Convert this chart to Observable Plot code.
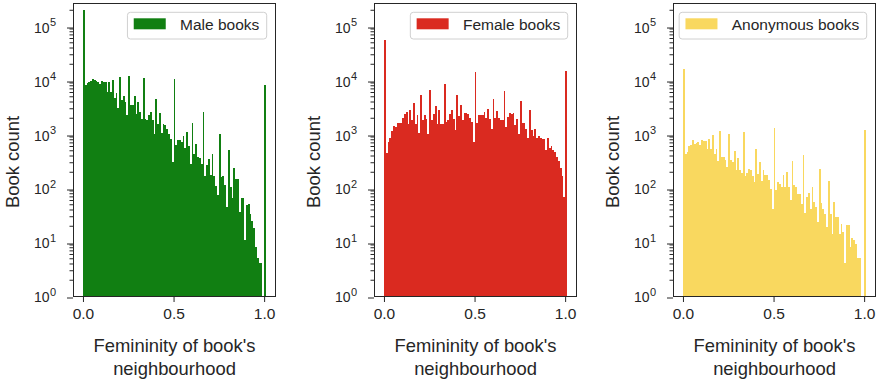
<!DOCTYPE html>
<html><head><meta charset="utf-8">
<script src="https://cdn.jsdelivr.net/npm/d3@7"></script>
<script src="https://cdn.jsdelivr.net/npm/@observablehq/plot@0.6"></script>
<style>
body{margin:0;background:#fff;}
#chart{position:relative;width:877px;height:382px;}
.panel{position:absolute;top:0;}
</style></head><body><div id="chart"></div>
<script>
// Histogram bins: bin i covers [i*binWidth, (i+1)*binWidth), i = 0..100
const binWidth = 0.01;
const maleCounts = [200000, 8000, 8800, 9200, 9600, 10300, 9900, 9600, 9200, 8300,
  9600, 9300, 9300, 6000, 9200, 6000, 10200, 4700, 5750, 3030,
  11400, 4340, 4990, 3920, 2220, 11700, 3400, 3500, 4990, 2380,
  3920, 2560, 1930, 11100, 1930, 1850, 2220, 2560, 1850, 1020,
  4520, 1560, 2450, 1045, 1560, 1450, 1260, 990, 800, 303,
  10600, 618, 766, 787, 713, 908, 560, 1090, 592, 282,
  1600, 434, 646, 376, 366, 282, 2560, 165, 263, 350,
  172, 421, 165, 108, 73, 1020, 160, 165, 112, 45,
  514, 105, 64, 235, 149, 149, 36, 66, 66, 11,
  48, 50, 33, 25, 18, 8, 5, 4, 4, 0,
  8000];
const femaleCounts = [56000, 446, 713, 858, 1122, 1429, 1350, 1600, 1600, 1600,
  2010, 2317, 2560, 1515, 2826, 1795, 3758, 1515, 2222, 1045,
  5200, 1846, 2222, 1926, 1022, 6640, 1846, 2317, 3260, 1556,
  2826, 1556, 1515, 8570, 1670, 1846, 2317, 2750, 1926, 1205,
  5200, 2128, 3400, 1795, 2487, 2400, 2317, 2010, 1670, 713,
  14000, 1600, 2222, 2222, 2222, 2560, 2010, 2950, 1926, 1260,
  4520, 2010, 2670, 2010, 1846, 1795, 6270, 1350, 2060, 2400,
  2317, 2400, 1470, 1926, 1000, 4100, 1600, 1600, 1260, 858,
  2750, 1180, 908, 1260, 858, 908, 858, 820, 820, 500,
  858, 560, 590, 514, 460, 376, 317, 238, 165, 68,
  15000];
const anonCounts = [15700, 421, 465, 592, 618, 766, 664, 683, 713, 618,
  787, 733, 733, 536, 820, 536, 946, 421, 536, 317,
  1122, 376, 376, 326, 245, 988, 335, 303, 486, 219,
  366, 213, 190, 1090, 165, 190, 228, 213, 165, 129,
  536, 185, 303, 135, 219, 172, 172, 139, 97, 41,
  1295, 91, 129, 120, 105, 172, 105, 198, 105, 59,
  313, 112, 105, 79, 79, 51, 415, 34, 68, 81,
  41, 105, 55, 45, 23, 222, 53, 40, 33, 19,
  135, 33, 14, 55, 29, 29, 14, 22, 15, 4,
  21, 21, 8, 12, 11, 9, 5, 5, 0, 0,
  1210];
const seriesNames = ["Male books", "Female books", "Anonymous books"];
const seriesColors = ["#117f12", "#da2a20", "#f9d85f"];
const xTicks = [0, 0.5, 1.0];
const yMajorTicks = [1, 10, 100, 1000, 10000, 100000];
const yMinorMultipliers = [2, 3, 4, 5, 6, 7, 8, 9];
const xLabelLines = ["Femininity of book's", "neighbourhood"];
const yLabel = "Book count";

const yMax = 2.67e5;
const yMinorTicks = [];
for (const t of yMajorTicks) for (const m of yMinorMultipliers) if (t * m < yMax) yMinorTicks.push(t * m);

const W = 277, H = 382, ML = 73, MR = 2, MT = 3, MB = 86;
const FONT = "'Liberation Sans', Arial, sans-serif";
const INK = "#262626";
const offsets = [0, 301, 600];
const allCounts = [maleCounts, femaleCounts, anonCounts];

const chart = document.getElementById("chart");
allCounts.forEach((counts, p) => {
  const data = counts.map((c, i) => ({x1: i * binWidth, x2: (i + 1) * binWidth, count: c})).filter(d => d.count > 0);
  const svg = Plot.plot({
    width: W, height: H,
    marginLeft: ML, marginRight: MR, marginTop: MT, marginBottom: MB,
    style: {fontFamily: FONT, color: INK, background: "transparent", overflow: "visible"},
    x: {domain: [-0.055, 1.06]},
    y: {type: "log", domain: [1, yMax]},
    marks: [
      Plot.rectY(data, {x1: "x1", x2: "x2", y1: 1, y2: "count", fill: seriesColors[p],
        inset: 0, shapeRendering: "crispEdges"}),
      Plot.frame({stroke: INK, strokeWidth: 1}),
      Plot.axisX(xTicks, {tickSize: 6, tickPadding: 5.5, tickFormat: d3.format(".1f"), fontSize: 15.5, label: null}),
      Plot.axisY(yMinorTicks, {tickSize: 3.5, tickFormat: () => "", label: null}),
      Plot.axisY(yMajorTicks, {tickSize: 6, tickPadding: 18, tickFormat: () => "10", fontSize: 14, dy: 1.5, label: null}),
      Plot.axisY(yMajorTicks, {tickSize: 0, tickPadding: 23.5, textAnchor: "start", tickFormat: d => String(Math.round(Math.log10(d))), fontSize: 11, dy: -4, label: null}),
      Plot.text([xLabelLines[0]], {text: d => d, frameAnchor: "bottom", lineAnchor: "top", dy: 42, fontSize: 18.4, fill: INK}),
      Plot.text([xLabelLines[1]], {text: d => d, frameAnchor: "bottom", lineAnchor: "top", dy: 65, fontSize: 18.4, fill: INK}),
      Plot.text([yLabel], {text: d => d, frameAnchor: "left", textAnchor: "middle", rotate: -90, dx: -60.5, dy: 12, fontSize: 18.4, fill: INK})
    ]
  });
  const wrap = document.createElement("div");
  wrap.className = "panel";
  wrap.style.left = offsets[p] + "px";
  wrap.appendChild(svg);
  chart.appendChild(wrap);

  // legend (upper right, inside frame)
  const g = d3.select(svg).append("g").attr("text-anchor", "start");
  const box = g.append("rect");
  const patch = g.append("rect");
  const label = g.append("text").text(seriesNames[p])
    .attr("text-anchor", "start")
    .attr("font-family", FONT).attr("font-size", 15.5).attr("fill", INK);
  const tw = label.node().getComputedTextLength();
  const right = W - MR - 8.3;
  const bw = 6.3 + 32 + 14.3 + tw + 7.4;
  const left = right - bw;
  box.attr("x", left).attr("y", 12.3).attr("width", bw).attr("height", 26.7)
    .attr("rx", 3).attr("fill", "white").attr("fill-opacity", 0.8).attr("stroke", "#d0d0d0").attr("stroke-width", 1);
  patch.attr("x", left + 6.3).attr("y", 18.3).attr("width", 32).attr("height", 11).attr("fill", seriesColors[p]);
  label.attr("x", left + 6.3 + 32 + 14.3).attr("y", 30);
});
</script></body></html>
